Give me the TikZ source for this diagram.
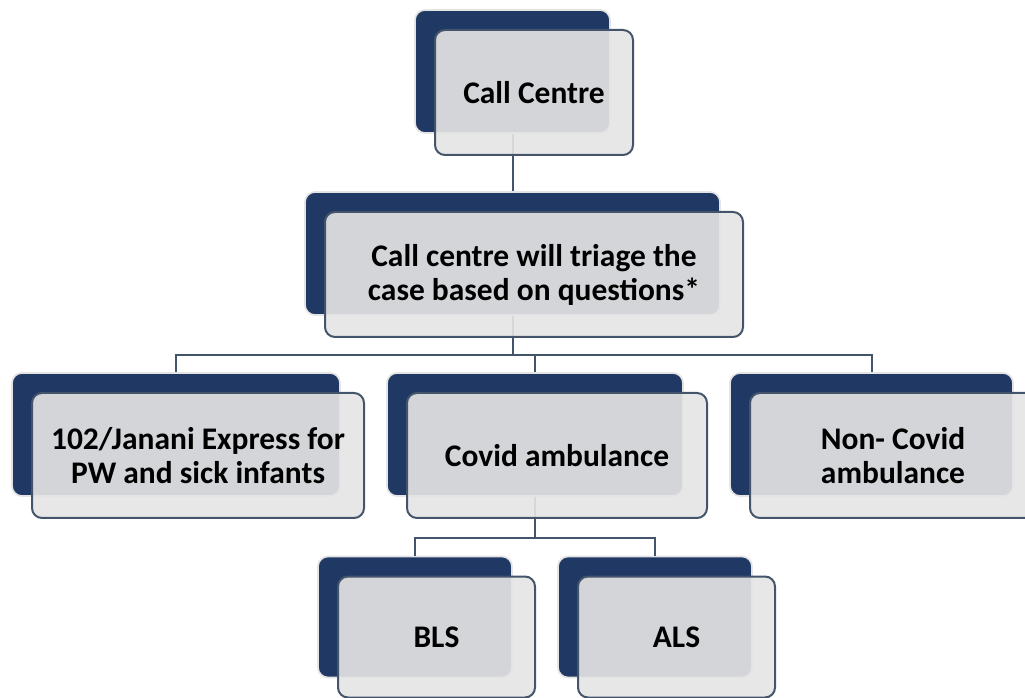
\documentclass[tikz,border=0pt]{standalone}
\usepackage{fontspec}
\setmainfont{Carlito}
\definecolor{navy}{HTML}{1F3864}
\definecolor{glow}{HTML}{E4E4E4}
\definecolor{slate}{HTML}{44546A}
\definecolor{frontfill}{HTML}{E5E5E5}
\tikzset{
  sz/.style 2 args={minimum width=#1*0.75pt, minimum height=#2*0.75pt},
  backbox/.style={rectangle, rounded corners=7.5pt, fill=navy, draw=glow, line width=1.3pt, inner sep=0pt},
  frontbox/.style={rectangle, rounded corners=7.5pt, fill=frontfill, fill opacity=0.91, text opacity=1, draw=slate, draw opacity=1, line width=1.5pt, inner sep=0pt, align=center, text=black, font=\bfseries\fontsize{23.6}{25.5}\selectfont},
  conn/.style={draw=slate, line width=1.5pt}
}
\begin{document}
\begin{tikzpicture}[x=0.75pt, y=-0.75pt]
\useasboundingbox (0,0) rectangle (1025,698);
% back boxes
\node[backbox, sz={195}{123}] (topB) at (512.5,71.5) {};
\node[backbox, sz={415}{123}] (midB) at (512.5,253.5) {};
\node[backbox, sz={328}{123}] (leftB) at (176,434.5) {};
\node[backbox, sz={296}{123}] (covB) at (535,434.5) {};
\node[backbox, sz={283}{123}] (rightB) at (871.5,434.5) {};
\node[backbox, sz={194}{121}] (blsB) at (415,617) {};
\node[backbox, sz={194}{121}] (alsB) at (655,617) {};
% connectors
\draw[conn] (topB.south) -- (midB.north);
\draw[conn] (midB.south) -- ++(0,39) -| (leftB.north);
\draw[conn] (midB.south) -- ++(0,39) -| (covB.north);
\draw[conn] (midB.south) -- ++(0,39) -| (rightB.north);
\draw[conn] (covB.south) -- ++(0,41) -| (blsB.north);
\draw[conn] (covB.south) -- ++(0,41) -| (alsB.north);
% front boxes
\node[frontbox, sz={198}{125}] (topF) at (534,92.5) {Call Centre};
\node[frontbox, sz={418}{125}, text depth=0.35em] (midF) at (534,274.5) {Call centre will triage the\\case based on questions*};
\node[frontbox, sz={332}{125}] (leftF) at (198,455.5) {102/Janani Express for\\PW and sick infants};
\node[frontbox, sz={300}{125}] (covF) at (557,455.5) {Covid ambulance};
\node[frontbox, sz={286}{125}] (rightF) at (893,455.5) {Non- Covid\\ambulance};
\node[frontbox, sz={197}{121}] (blsF) at (436.5,637) {BLS};
\node[frontbox, sz={197}{121}] (alsF) at (676.5,637) {ALS};
\end{tikzpicture}
\end{document}
